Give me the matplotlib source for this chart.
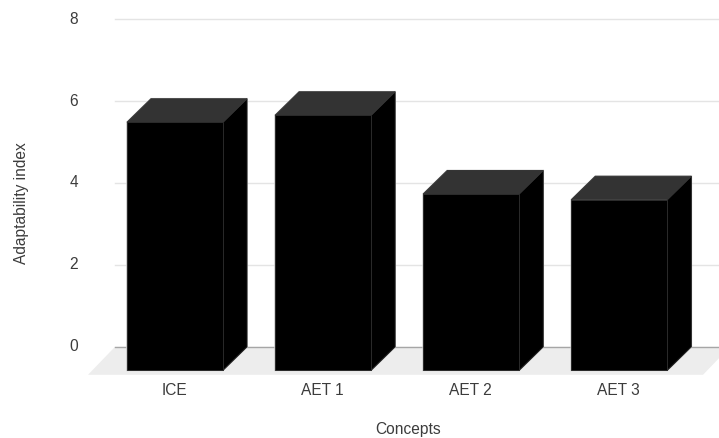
import numpy as np
import matplotlib
matplotlib.use("Agg")
import matplotlib.pyplot as plt
from matplotlib.patches import Polygon

concepts = ["ICE", "AET 1", "AET 2", "AET 3"]
adaptability = [6.05, 6.22, 4.30, 4.16]
y_ticks = [0, 2, 4, 6, 8]

W, H = 719, 439
PITCH = 148.1   # px between bars
UNIT = 41.0     # px per index unit
X0, Y0 = 175.0, 347.8   # px of first bar centre / zero line
BAR_W = 96 / PITCH
DX, DY = 24 / PITCH, 23.5 / UNIT   # depth of the boxes

plt.rcParams["font.family"] = ["Liberation Sans", "DejaVu Sans"]
TEXT = "#3c3c3c"
FS = 11.2

fig = plt.figure(figsize=(W / 100, H / 100), dpi=100)
ax = fig.add_axes([0, 0, 1, 1])
ax.set_xlim(-X0 / PITCH, (W - X0) / PITCH)
ax.set_ylim((Y0 - H) / UNIT, Y0 / UNIT)
ax.axis("off")

x_left = (115 - X0) / PITCH
x_right = (W - X0) / PITCH

# floor under the bars, sheared towards the viewer
floor_dy = 28 / UNIT
floor_dx = 27 / PITCH
floor = [(x_left, 0), (x_left + 615 / PITCH, 0),
         (x_left + 615 / PITCH - floor_dx, -floor_dy), (x_left - floor_dx, -floor_dy)]
ax.add_patch(Polygon(floor, closed=True, fc="#ededed", ec="none", zorder=1))

for t in y_ticks:
    col = "#a6a6a6" if t == 0 else "#e4e4e4"
    ax.plot([x_left, x_right], [t, t], color=col, lw=1, zorder=1.5)
    # tick labels sit a touch above the lower grid lines
    ax.text((74 - X0) / PITCH, t + 0.05 * (8 - t) / 8 * 0.8, str(t), ha="center", va="center",
            fontsize=FS, color=TEXT)

for i, v in enumerate(adaptability):
    l, r = i - BAR_W / 2, i + BAR_W / 2
    b, t = -DY, v - DY
    # outline halo, then the three faces
    outline = [(l, b), (l, t), (l + DX, v), (r + DX, v), (r + DX, 0), (r, b)]
    ax.add_patch(Polygon(outline, closed=True, fc="none", ec="#c8c8c8", lw=1.2, zorder=2))
    ax.add_patch(Polygon([(r, b), (r + DX, 0), (r + DX, v), (r, t)], closed=True,
                         fc="#000000", ec="#1c1c1c", lw=0.7, zorder=3))
    ax.add_patch(Polygon([(l, t), (l + DX, v), (r + DX, v), (r, t)], closed=True,
                         fc="#333333", ec="#333333", lw=0.7, zorder=3))
    ax.add_patch(Polygon([(l, b), (r, b), (r, t), (l, t)], closed=True,
                         fc="#000000", ec="#2a2a2a", lw=0.7, zorder=4))
    ax.text(i - 0.5 / PITCH, (Y0 - 391) / UNIT, concepts[i], ha="center", va="center",
            fontsize=FS, color=TEXT)

ax.text((408.5 - X0) / PITCH, (Y0 - 430) / UNIT, "Concepts", ha="center", va="center",
        fontsize=FS, color=TEXT)
ax.text((22 - X0) / PITCH, (Y0 - 203.5) / UNIT, "Adaptability index", ha="center", va="center",
        rotation=90, fontsize=FS, color=TEXT)

fig.savefig("out.png", dpi=100)
